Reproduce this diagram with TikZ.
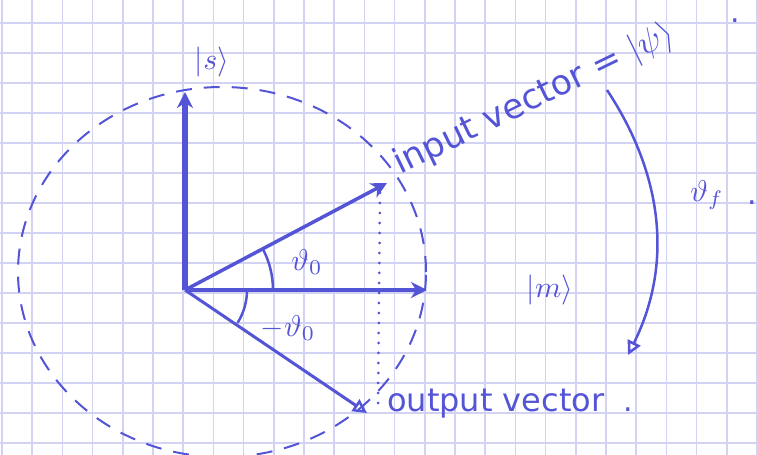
\documentclass[tikz,border=0pt]{standalone}
\usepackage{fontspec}
\setmainfont{DejaVu Sans}
\usetikzlibrary{positioning, arrows.meta, calc}
\definecolor{ink}{RGB}{84,84,214}
\definecolor{gridline}{RGB}{210,210,242}

\begin{document}
\begin{tikzpicture}[
    x=1pt, y=1pt,
    vec/.style={draw=ink, line width=3.5pt, -{Stealth[length=16pt, width=16pt, inset=5pt]}},
    openvec/.style={draw=ink, line width=3pt, -{Triangle[open, length=14pt, width=14pt, line width=2.5pt]}},
    hand/.style={text=ink, font=\normalsize, inner sep=0.5pt, scale=3},
    bighand/.style={text=ink, font=\normalsize, inner sep=0.5pt, scale=3.2},
    angmark/.style={draw=ink, line width=2.5pt}
  ]
  \useasboundingbox (0,0) rectangle (758,455);
  % squared paper
  \foreach \k in {0,...,25} \draw[gridline, line width=1.6pt] ({2+30.2*\k},0) -- ({2+30.2*\k},455);
  \foreach \k in {0,...,14} \draw[gridline, line width=1.6pt] (0,{432-30*\k}) -- (758,{432-30*\k});

  \coordinate (O) at (185,165);
  \coordinate (s) at (185,363);
  \coordinate (m) at (427,165);
  \coordinate (in) at (387,272);
  \coordinate (out) at (367,42);
  \coordinate (dtop) at (380,262);
  \coordinate (dbot) at (378,48);
  \coordinate (fstart) at (607,365);
  \coordinate (fend) at (628,100);

  % dashed circle
  \draw[ink, line width=2pt, dash pattern=on 16pt off 12pt] (222,183) ellipse [x radius=204, y radius=185];

  % vectors
  \draw[vec, line width=6pt] (O) -- (s);
  \draw[vec] (O) -- (in);
  \draw[vec] (O) -- (m);
  \draw[openvec] (O) -- (out);
  \draw[ink, line width=3pt, line cap=round, dash pattern=on 0pt off 10pt] (dtop) -- (dbot);

  % angles
  \draw[angmark] ($(O)+(88,0)$) arc[start angle=0, end angle=28, radius=88];
  \draw[angmark] ($(O)+(62,0)$) arc[start angle=0, end angle=-32, radius=62];

  % rotation arrow
  \draw[openvec, line width=2.5pt] (fstart) .. controls (660,285) and (675,195) .. (fend);

  % labels
  \node[hand] (slbl) at (212,393) {$|s\rangle$};
  \node[hand] (mlbl) at (550,165) {$|m\rangle$};
  \node[hand] (th0) at (307,193) {$\vartheta_0$};
  \node[hand] (mth0) at (288,127) {$-\vartheta_0$};
  \node[hand] (thf) at (707,260) {$\vartheta_f$};
  \node[hand, anchor=base] (dotf) at (752,250) {.};
  \node[bighand, scale=1.08, rotate=26, anchor=base west] (inlbl) at (398,279) {input vector = $|\psi\rangle$};
  \node[hand, anchor=base] (dotin) at (735,432) {.};
  \node[bighand, anchor=base west] (outlbl) at (385,43) {output vector};
  \node[hand, anchor=base] (dotout) at (628,43) {.};
\end{tikzpicture}
\end{document}
